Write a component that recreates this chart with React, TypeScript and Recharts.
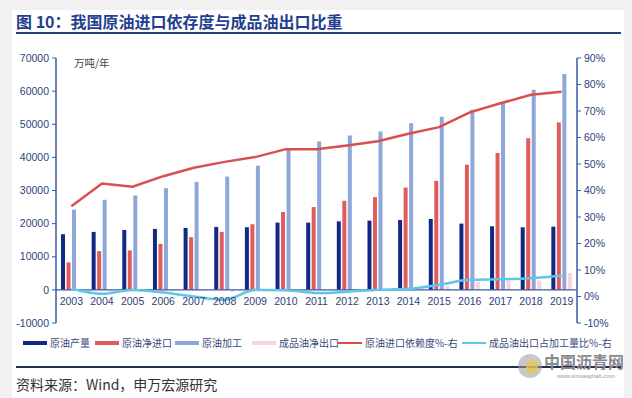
import { ComposedChart, Bar, Line, XAxis, YAxis, ReferenceLine } from 'recharts';

const years = ['2003', '2004', '2005', '2006', '2007', '2008', '2009', '2010', '2011', '2012', '2013', '2014', '2015', '2016', '2017', '2018', '2019'];
const crudeOutput = [16800, 17500, 18100, 18400, 18700, 19000, 18900, 20300, 20300, 20700, 20900, 21100, 21400, 20000, 19200, 18900, 19100];
const crudeNetImport = [8300, 11700, 11900, 13900, 15900, 17500, 19800, 23500, 25000, 26900, 28000, 30900, 32900, 37800, 41300, 45800, 50500];
const crudeRefining = [24200, 27200, 28500, 30700, 32600, 34200, 37500, 42600, 44800, 46600, 47800, 50300, 52300, 54400, 56600, 60400, 65200];
const productNetExport = [300, -400, 100, -400, -300, -700, 300, 300, -200, -100, 300, 700, 1200, 2500, 2700, 2800, 5100];
const importDependence = [34.1, 42.6, 41.4, 45.4, 48.6, 50.8, 52.6, 55.6, 55.6, 57.0, 58.6, 61.4, 63.9, 69.5, 72.9, 76.1, 77.3];
const exportShare = [2.9, 1.0, 2.5, 1.5, 0.0, -1.2, 2.5, 2.4, 1.3, 1.8, 2.5, 2.9, 4.4, 6.3, 6.5, 6.9, 7.8];

const leftTicks = [-10000, 0, 10000, 20000, 30000, 40000, 50000, 60000, 70000];
const rightTicks = [-10, 0, 10, 20, 30, 40, 50, 60, 70, 80, 90];

const data = years.map((year, i) => ({
  year,
  crudeOutput: crudeOutput[i],
  crudeNetImport: crudeNetImport[i],
  crudeRefining: crudeRefining[i],
  productNetExport: productNetExport[i],
  importDependence: importDependence[i],
  exportShare: exportShare[i],
}));

const legendItems = [
  { name: '原油产量', color: '#102a83', thick: 4, x: 23 },
  { name: '原油净进口', color: '#e05c5c', thick: 4, x: 95 },
  { name: '原油加工', color: '#8ea6d8', thick: 4, x: 175 },
  { name: '成品油净出口', color: '#f8d3dc', thick: 4, x: 252 },
  { name: '原油进口依赖度%-右', color: '#d94f4f', thick: 2, x: 338 },
  { name: '成品油出口占加工量比%-右', color: '#5ec6e9', thick: 2, x: 462 },
];

const numFont = '"Liberation Sans", Arial, sans-serif';
const cjkFont = '"Noto Sans CJK SC", sans-serif';

// year labels sit just under the zero line, not at the plot bottom
const renderYearTick = (props: any) => {
  const { x, y, payload } = props;
  return (
    <text x={x} y={y - 22} textAnchor="middle" dominantBaseline="central" fontSize={10.5} fill="#2b3f7e" fontFamily={numFont}>
      {payload.value}
    </text>
  );
};

export default function App() {
  return (
    <div style={{ position: 'fixed', left: 0, top: 0, width: 632, height: 398, background: '#f1f1f1', overflow: 'hidden' }}>
      <div style={{ position: 'absolute', left: 12, top: 10, width: 612, height: 388, background: '#ffffff' }} />
      <div style={{ position: 'absolute', left: 16, top: 9, fontFamily: cjkFont, fontWeight: 700, fontSize: 16, color: '#1f3f8f', whiteSpace: 'nowrap' }}>
        图 10：我国原油进口依存度与成品油出口比重
      </div>
      <div style={{ position: 'absolute', left: 16, top: 32, width: 605, height: 2, background: '#2a3f7a' }} />

      <div style={{ position: 'absolute', left: 0, top: 0 }}>
        <ComposedChart
          width={632}
          height={398}
          data={data}
          margin={{ top: 58, right: 10, bottom: 55, left: 11 }}
          barSize={4}
          barGap={1.5}
        >
          <XAxis
            dataKey="year"
            height={20}
            axisLine={false}
            tickLine={false}
            tickSize={0}
            tickMargin={0}
            interval={0}
            tick={renderYearTick}
          />
          <YAxis
            yAxisId="left"
            width={45}
            domain={[-10000, 70000]}
            ticks={leftTicks}
            interval={0}
            axisLine={{ stroke: '#3a5aa0', strokeWidth: 1.5 }}
            tickLine={{ stroke: '#3a5aa0' }}
            tickSize={4}
            tickMargin={3}
            tick={{ fontSize: 10.5, fill: '#2b3f7e', fontFamily: numFont }}
          />
          <YAxis
            yAxisId="right"
            orientation="right"
            width={45}
            domain={[-10, 90]}
            ticks={rightTicks}
            interval={0}
            tickFormatter={(v: number) => `${v}%`}
            axisLine={{ stroke: '#3a5aa0', strokeWidth: 1.5 }}
            tickLine={{ stroke: '#3a5aa0' }}
            tickSize={4}
            tickMargin={3}
            tick={{ fontSize: 10.5, fill: '#2b3f7e', fontFamily: numFont }}
          />
          <Bar yAxisId="left" dataKey="crudeOutput" fill="#102a83" isAnimationActive={false} />
          <Bar yAxisId="left" dataKey="crudeNetImport" fill="#e05c5c" isAnimationActive={false} />
          <Bar yAxisId="left" dataKey="crudeRefining" fill="#8ea6d8" isAnimationActive={false} />
          <Bar yAxisId="left" dataKey="productNetExport" fill="#f8d3dc" isAnimationActive={false} />
          <ReferenceLine yAxisId="left" y={0} stroke="#3a5aa0" strokeWidth={1.2} />
          <Line
            yAxisId="right"
            type="linear"
            dataKey="importDependence"
            stroke="#d94f4f"
            strokeWidth={2.5}
            dot={false}
            isAnimationActive={false}
          />
          <Line
            yAxisId="right"
            type="monotone"
            dataKey="exportShare"
            stroke="#5ec6e9"
            strokeWidth={2.5}
            dot={false}
            isAnimationActive={false}
          />
        </ComposedChart>
      </div>

      <div style={{ position: 'absolute', left: 74, top: 55, fontFamily: cjkFont, fontSize: 10.5, color: '#444' }}>万吨/年</div>

      {legendItems.map((item) => (
        <div
          key={item.name}
          style={{ position: 'absolute', left: item.x, top: 336, height: 14, display: 'flex', alignItems: 'center', whiteSpace: 'nowrap' }}
        >
          <span style={{ display: 'inline-block', width: 24, height: item.thick, background: item.color, marginRight: 3 }} />
          <span style={{ fontFamily: cjkFont, fontSize: 10, lineHeight: '12px', color: '#3a4a7a' }}>{item.name}</span>
        </div>
      ))}

      <div style={{ position: 'absolute', left: 16, top: 366, width: 605, height: 2, background: '#1f2f4f' }} />
      <div style={{ position: 'absolute', left: 16, top: 374, fontFamily: cjkFont, fontSize: 14, color: '#333', whiteSpace: 'nowrap' }}>
        资料来源：Wind，申万宏源研究
      </div>

      <div style={{ position: 'absolute', left: 518, top: 354, width: 24, height: 24, borderRadius: 12, background: '#9a9a9a', opacity: 0.55 }} />
      <div style={{ position: 'absolute', left: 526, top: 360, width: 12, height: 14, borderRadius: 7, background: '#e8c840', opacity: 0.7 }} />
      <div style={{ position: 'absolute', left: 544, top: 353, fontFamily: cjkFont, fontWeight: 700, fontSize: 16, lineHeight: '17px', color: '#8a8a8a', whiteSpace: 'nowrap' }}>
        中国沥青网
      </div>
      <div style={{ position: 'absolute', left: 557, top: 372, fontFamily: numFont, fontSize: 6, lineHeight: '8px', color: '#999', whiteSpace: 'nowrap' }}>
        www.sinoasphalt.com
      </div>
    </div>
  );
}
